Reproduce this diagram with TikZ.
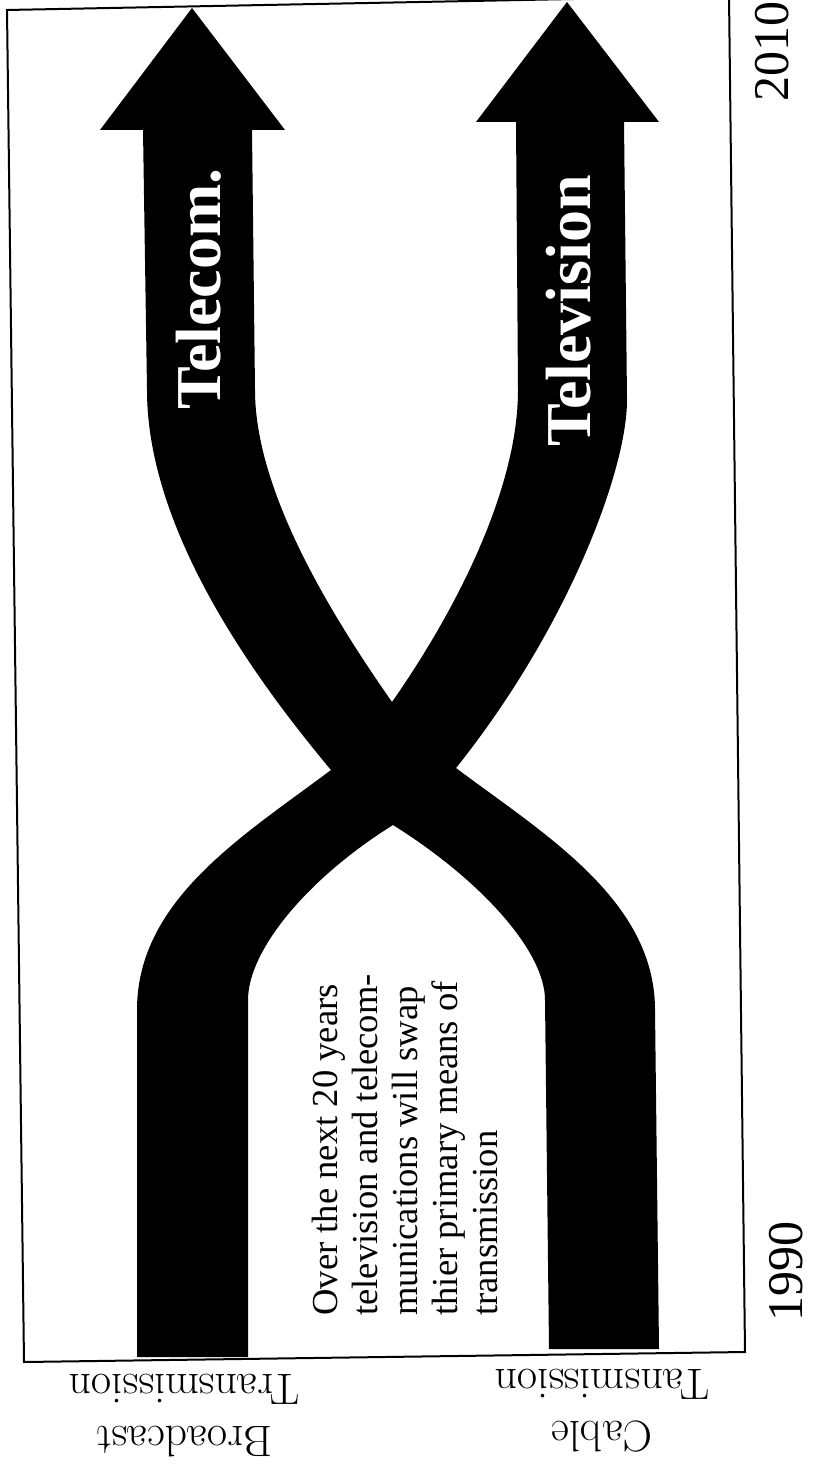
\documentclass[tikz,border=0pt]{standalone}
\usepackage{fontspec}
\newfontfamily\timesf{Liberation Serif}
\begin{document}
\begin{tikzpicture}[x=0.5pt,y=-0.5pt,
  band/.style={fill=black},
  frameline/.style={draw=black, line width=1pt},
  bandtext/.style={text=white, font=\timesf\bfseries\fontsize{32}{36}\selectfont, rotate=90, anchor=base, inner sep=0},
  yearlabel/.style={font=\timesf\fontsize{25}{30}\selectfont, rotate=90, anchor=base west, inner sep=0},
  axislabel/.style={font=\fontsize{22}{26}\selectfont, rotate=180, align=center, inner sep=0},
  notetext/.style={font=\timesf\fontsize{18.3}{20}\selectfont, rotate=90, align=left, anchor=north west, inner sep=0}]
\useasboundingbox (0,0) rectangle (813,1470);

% frame
\coordinate (ftl) at (7,10);
\coordinate (ftr) at (729,-4);
\coordinate (fbr) at (745,1352);
\coordinate (fbl) at (24,1362);
\draw[frameline] (ftl) -- (ftr) -- (fbr) -- (fbl) -- cycle;

% crossing points of the two bands
\coordinate (xl) at (331,770);
\coordinate (xt) at (392,702);
\coordinate (xr) at (456,768);
\coordinate (xb) at (393,825);

% band A: Broadcast (bottom left) -> Television (top right)
\fill[band] (137,1357) -- (137,1010) .. controls (137,900) and (243,836) .. (xl)
  -- (xt) .. controls (455,612) and (518,490) .. (518,390)
  -- (516,122) -- (476,122) -- (567,2) -- (659,122) -- (624,122)
  -- (627,400) .. controls (627,470) and (568,628) .. (xr)
  -- (xb) .. controls (308,878) and (248,950) .. (248,1000)
  -- (248,1357) -- cycle;

% band B: Cable (bottom right) -> Telecom (top left)
\fill[band] (549,1349) -- (545,1000) .. controls (545,950) and (478,878) .. (xb)
  -- (xl) .. controls (254,678) and (147,530) .. (147,390)
  -- (143,130) -- (100,130) -- (192,8) -- (285,130) -- (252,130)
  -- (255,390) .. controls (255,490) and (329,612) .. (xt)
  -- (xr) .. controls (544,834) and (655,900) .. (655,1010)
  -- (659,1349) -- cycle;

% labels on the bands
\node[bandtext] (telecom) at (220,289) {Telecom.};
\node[bandtext] (television) at (590,311) {Television};

% note
\node[notetext] (note) at (312,1316) {Over the next 20 years\\television and telecom-\\munications will swap\\thier primary means of\\transmission};

% years
\node[yearlabel] (y1990) at (802,1322) {1990};
\node[yearlabel] (y2010) at (788,102) {2010};

% source labels
\node[axislabel] (broadcast) at (184,1416) {Broadcast\\Transmission};
\node[axislabel] (cable) at (602,1411) {Cable\\Tansmission};
\end{tikzpicture}
\end{document}
